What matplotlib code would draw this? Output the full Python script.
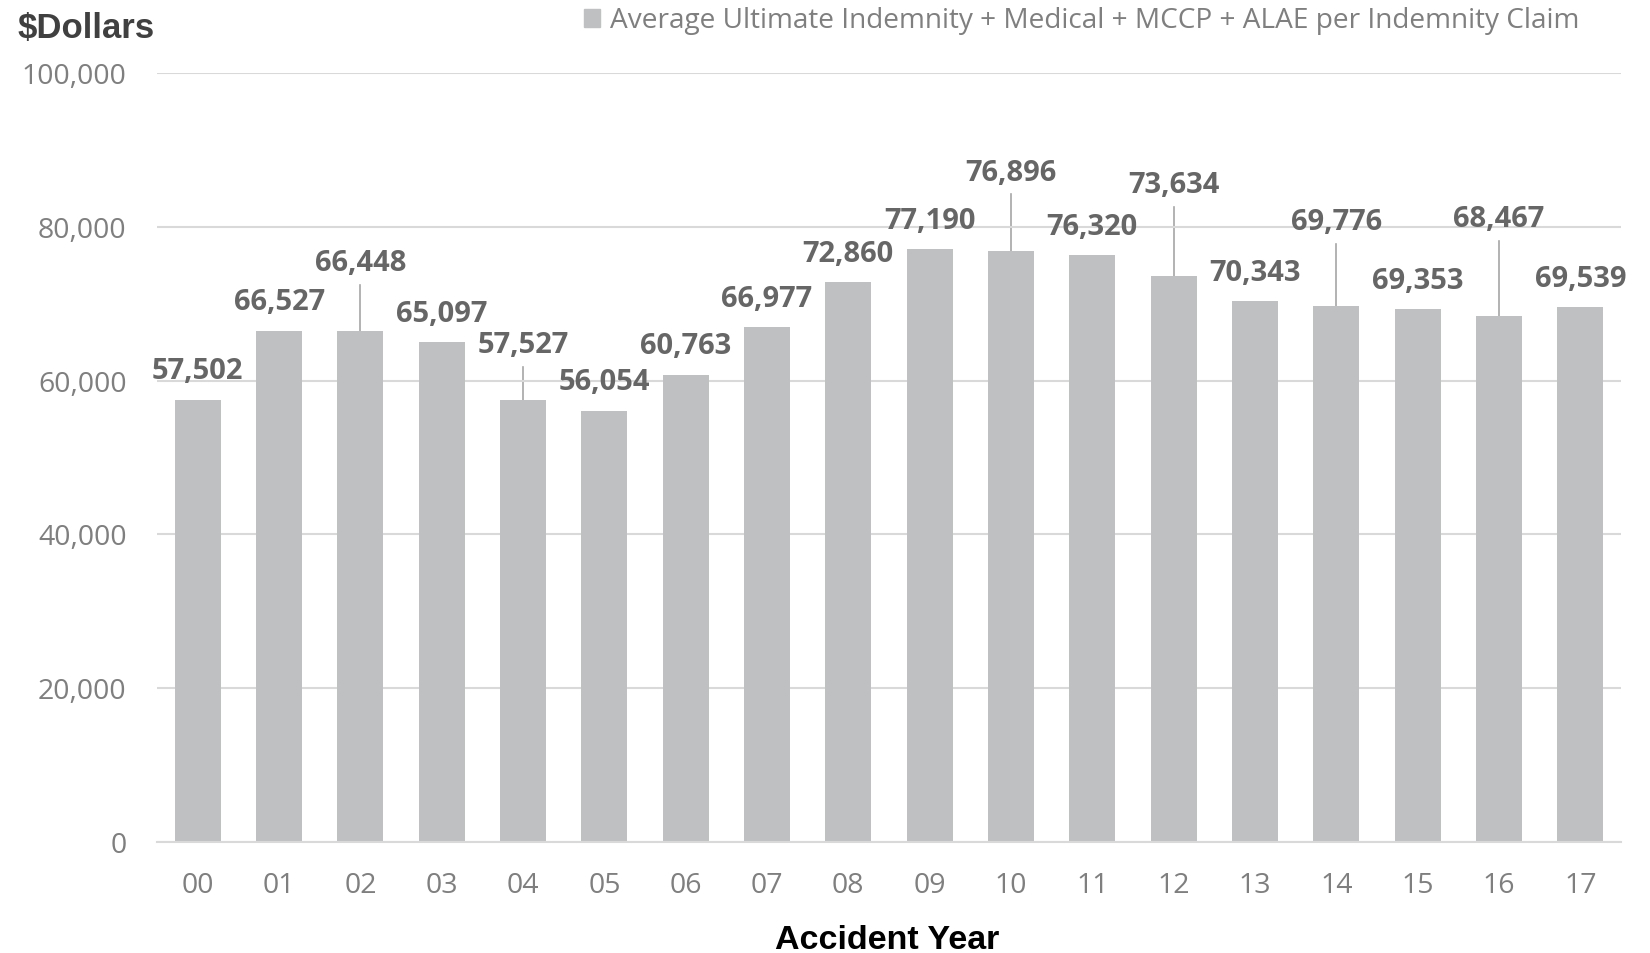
import matplotlib.pyplot as plt
from matplotlib.patches import Patch

# Data
years = ['00', '01', '02', '03', '04', '05', '06', '07', '08',
         '09', '10', '11', '12', '13', '14', '15', '16', '17']
values = [57502, 66527, 66448, 65097, 57527, 56054, 60763, 66977, 72860,
          77190, 76896, 76320, 73634, 70343, 69776, 69353, 68467, 69539]
# label heights (data units) as placed in the original
label_y = [61300, 70200, 75300, 68700, 64600, 59800, 64450, 70600, 76500,
           80750, 87050, 79930, 85400, 74050, 80620, 72950, 81030, 73220]
leader = [2, 4, 10, 12, 14, 16]

bar_color = '#bfc0c2'
legend_text = 'Average Ultimate Indemnity + Medical + MCCP + ALAE per Indemnity Claim'

plt.rcParams['font.family'] = ['Open Sans', 'DejaVu Sans']

fig = plt.figure(figsize=(16.5, 9.535), dpi=100)
ax = fig.add_axes([0.0952, 0.1165, 0.8872, 0.8062])

x = range(len(years))
ax.bar(x, values, width=0.565, color=bar_color, zorder=2)

for i, v in enumerate(values):
    ax.text(i, label_y[i], f'{v:,}', ha='center', va='center',
            fontsize=21, fontweight='bold', color='#666666', zorder=3)
    if i in leader:
        ax.plot([i, i], [label_y[i] - 2800, v], color='#a6a6a6', lw=1.2, zorder=1)

ax.set_xlim(-0.5, len(years) - 0.5)
ax.set_ylim(0, 100000)
ax.set_yticks(range(0, 100001, 20000))
ax.set_yticklabels([f'{t:,}' for t in range(0, 100001, 20000)])
ax.set_xticks(list(x))
ax.set_xticklabels(years)
ax.tick_params(axis='both', length=0, labelsize=20.5, colors='#7f7f7f')
ax.tick_params(axis='y', pad=22)
ax.tick_params(axis='x', pad=21)
ax.grid(axis='y', color='#d9d9d9', lw=1.5, zorder=0)
for s in ['top', 'right', 'left']:
    ax.spines[s].set_visible(False)
ax.spines['bottom'].set_color('#d9d9d9')
ax.spines['bottom'].set_linewidth(1.5)

fig.text(18 / 1650, 1 - 28 / 953, '$Dollars', family='Liberation Sans',
         fontsize=25, fontweight='bold', color='#404040', va='center', ha='left')
fig.text(887 / 1650, 1 - 940 / 953, 'Accident Year', family='Liberation Sans',
         fontsize=24.5, fontweight='bold', color='black', va='center', ha='center')

fig.legend(handles=[Patch(color=bar_color, label=legend_text)],
           loc='center right', bbox_to_anchor=(1593 / 1650, 1 - 21 / 953),
           frameon=False, borderpad=0, handlelength=0.55, handleheight=0.6,
           handletextpad=0.35, prop={'size': 20.2},
           labelcolor='#7f7f7f')

fig.savefig('out.png', dpi=100)
